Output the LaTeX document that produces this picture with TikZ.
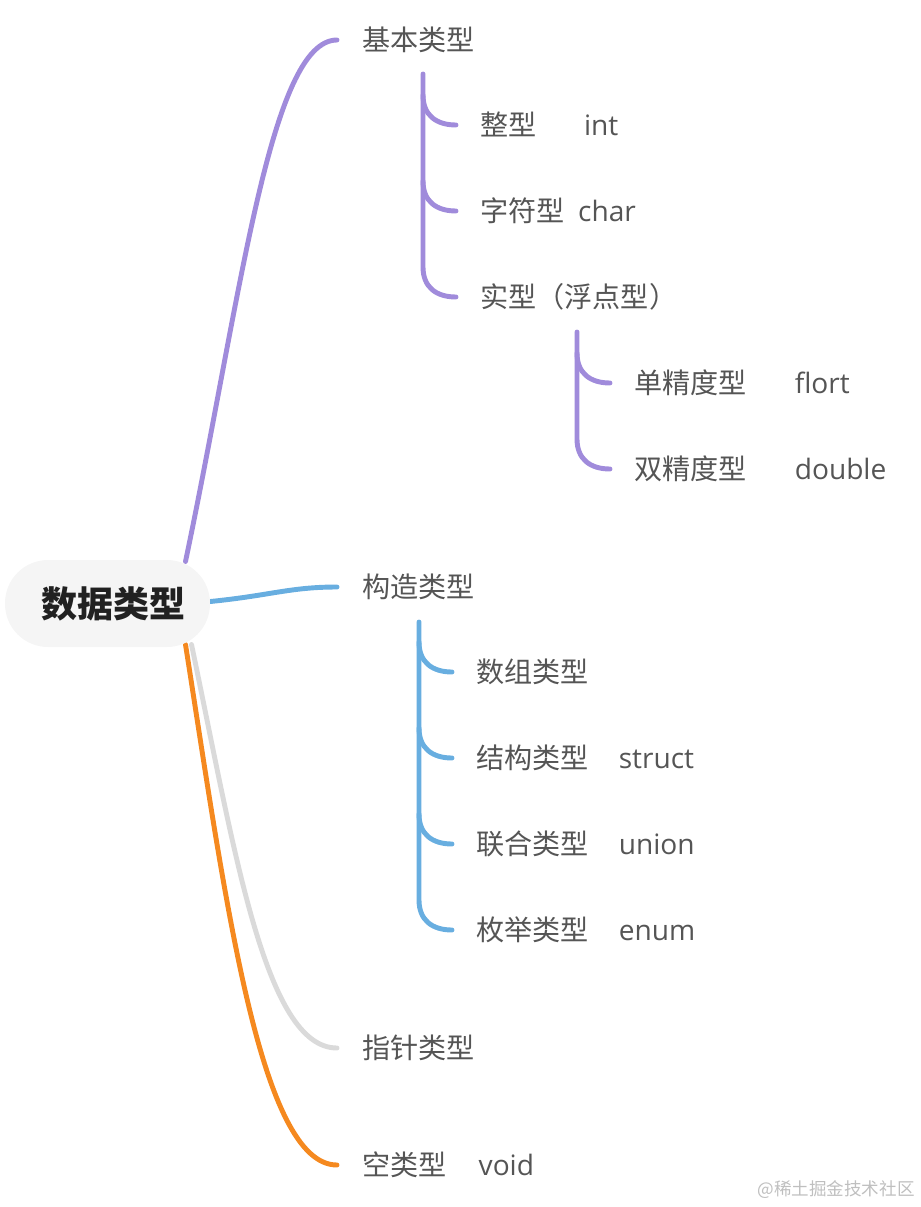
\documentclass[tikz,border=0pt]{standalone}
\usepackage{fontspec}
\setmainfont{Noto Sans CJK SC}
\newfontfamily\latf{Open Sans}
\usepackage{xcolor}
\usepackage{tikz}
\usetikzlibrary{calc}
\definecolor{purp}{HTML}{A08BDB}
\definecolor{skyb}{HTML}{68AEE0}
\definecolor{lgry}{HTML}{DADADA}
\definecolor{orng}{HTML}{F5891F}
\definecolor{txtc}{HTML}{555555}
\pgfdeclarelayer{bg}
\pgfsetlayers{bg,main}
\tikzset{
  topic/.style={rectangle, rounded corners=0.86cm, fill=black!4,
                minimum width=4.1cm, minimum height=1.74cm, inner sep=0pt,
                font=\fontsize{20.5}{25}\selectfont\bfseries, text=black!87},
  txt/.style={anchor=west, inner sep=0pt, text height=12.8pt, text depth=0.8pt,
              font=\fontsize{16}{19}\selectfont, text=txtc},
  br/.style={line width=2.8pt, line cap=round},
}

\begin{document}
\begin{tikzpicture}[x=0.02cm, y=-0.02cm]
  \useasboundingbox (0,0) rectangle (920,1207);
  \node[topic] (root) at (107.5,603.5) {\hspace{0.24cm}数据类型};
  \node[txt] (basic) at (362,40) {基本类型};
  \node[txt] (intg) at (480,125) {整型\hspace{0.95cm}{\latf int}};
  \node[txt] (chr) at (480,211) {字符型\hspace{0.27cm}{\latf char}};
  \node[txt] (real) at (480,297) {实型（浮点型）};
  \node[txt] (sgl) at (634,383) {单精度型\hspace{0.96cm}{\latf flort}};
  \node[txt] (dbl) at (634,469) {双精度型\hspace{0.96cm}{\latf double}};
  \node[txt] (cons) at (362,587) {构造类型};
  \node[txt] (arry) at (476,672) {数组类型};
  \node[txt] (strc) at (476,758) {结构类型\hspace{0.6cm}{\latf struct}};
  \node[txt] (unin) at (476,844) {联合类型\hspace{0.6cm}{\latf union}};
  \node[txt] (enm) at (476,930) {枚举类型\hspace{0.6cm}{\latf enum}};
  \node[txt] (ptr) at (362,1048) {指针类型};
  \node[txt] (vd) at (362,1165) {空类型\hspace{0.64cm}{\latf void}};
  \node[anchor=east, inner sep=0pt, font=\fontsize{10}{12}\selectfont, text=black!25] (wm) at (915,1190) {@稀土掘金技术社区};

  \begin{pgfonlayer}{bg}
  \draw[br, purp] ($(root.center)+(78,-42)$) .. controls +(55,-262) and +(-67,0) .. ($(basic.west)+(-25,0)$);
  \draw[br, skyb] ($(root.east)+(0,-2)$) .. controls +(60,-6) and +(-47,0) .. ($(cons.west)+(-25,0)$);
  \draw[br, lgry] ($(root.center)+(84,41)$) .. controls +(43,205) and +(-72,0) .. ($(ptr.west)+(-25,0)$);
  \draw[br, orng] ($(root.center)+(78,41)$) .. controls +(40,255) and +(-77,0) .. ($(vd.west)+(-25,0)$);
  \end{pgfonlayer}

  \draw[br, purp] ($(intg.west |- basic.west)+(-57,34)$) -- ($(real.west)+(-57,-30)$)
    .. controls +(0,20) and +(-20,0) .. ($(real.west)+(-24,0)$);
  \foreach \c in {intg, chr}
    \draw[br, purp] ($(\c.west)+(-57,-30)$) .. controls +(0,20) and +(-20,0) .. ($(\c.west)+(-24,0)$);

  \draw[br, purp] ($(sgl.west |- real.west)+(-57,35)$) -- ($(dbl.west)+(-57,-30)$)
    .. controls +(0,20) and +(-20,0) .. ($(dbl.west)+(-24,0)$);
  \draw[br, purp] ($(sgl.west)+(-57,-30)$) .. controls +(0,20) and +(-20,0) .. ($(sgl.west)+(-24,0)$);

  \draw[br, skyb] ($(arry.west |- cons.west)+(-57,35)$) -- ($(enm.west)+(-57,-30)$)
    .. controls +(0,20) and +(-20,0) .. ($(enm.west)+(-24,0)$);
  \foreach \c in {arry, strc, unin}
    \draw[br, skyb] ($(\c.west)+(-57,-30)$) .. controls +(0,20) and +(-20,0) .. ($(\c.west)+(-24,0)$);
\end{tikzpicture}
\end{document}
